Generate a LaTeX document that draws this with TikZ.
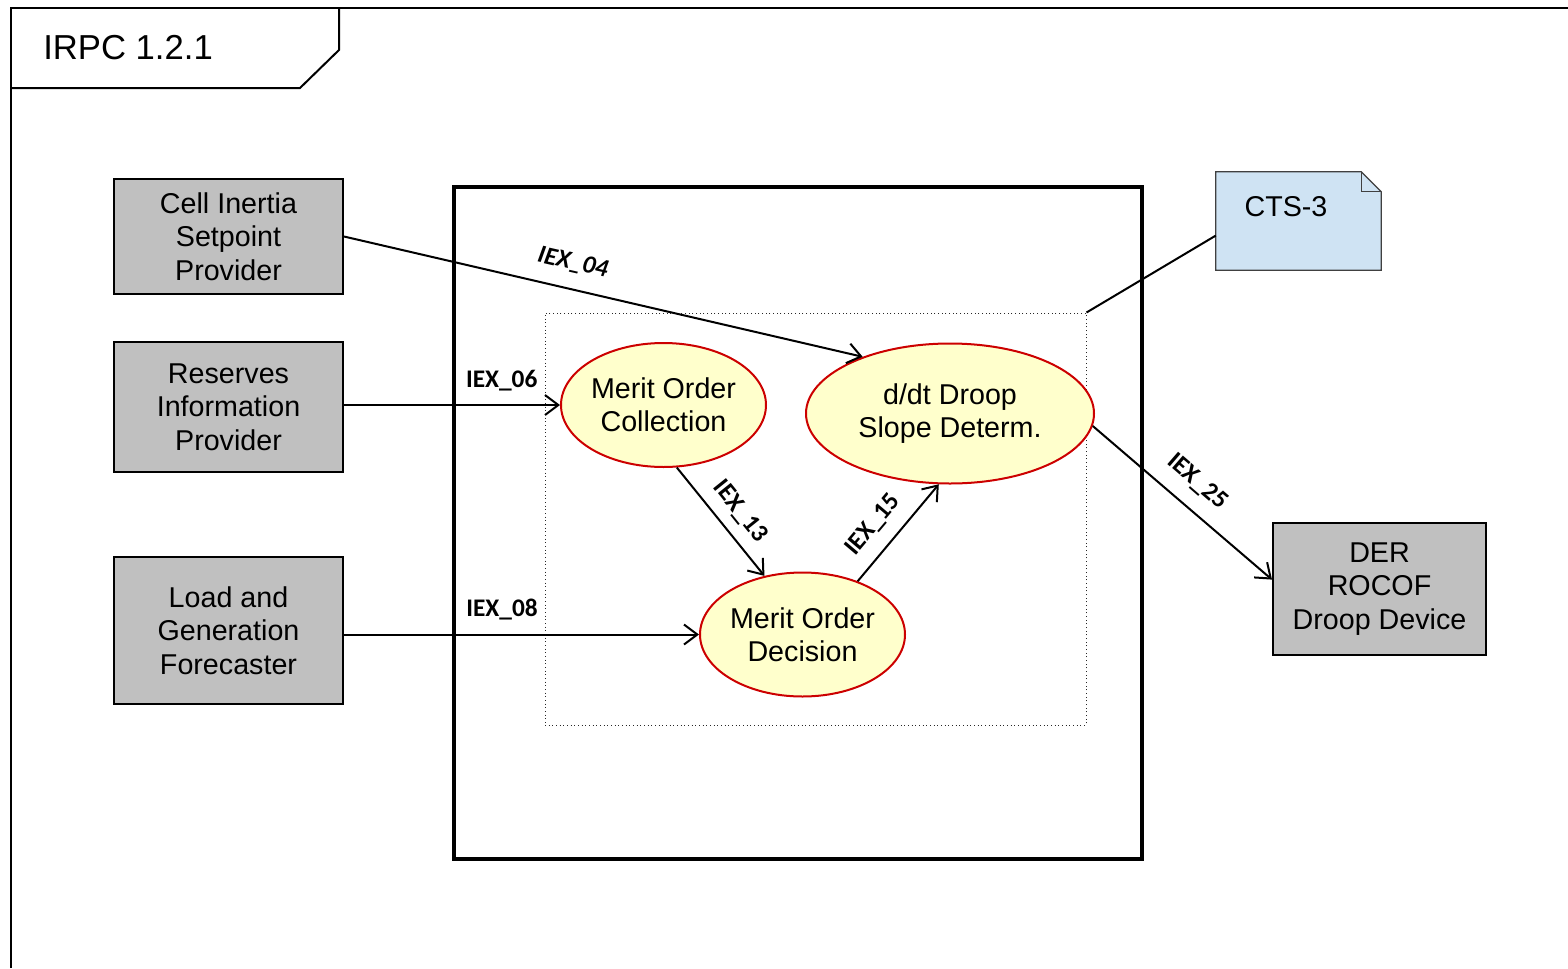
\documentclass[tikz,border=0pt]{standalone}
\usepackage{fontspec}
\setmainfont{Liberation Sans}
\newfontfamily\iexfont{Carlito}
\usetikzlibrary{shapes.geometric,arrows.meta,calc}

\begin{document}
\begin{tikzpicture}[x=0.75pt,y=0.75pt,yscale=-1,xscale=1,
  actor/.style={draw=black,line width=1.5pt,fill={rgb,255:red,192;green,192;blue,192},align=center,inner sep=0pt,font=\fontsize{21.5}{25}\selectfont,minimum width=171.75pt},
  func/.style={ellipse,draw={rgb,255:red,204;green,0;blue,0},line width=1.5pt,fill={rgb,255:red,255;green,255;blue,204},align=center,inner sep=0pt,font=\fontsize{21.5}{25}\selectfont,minimum width=153.75pt,minimum height=93pt},
  flow/.style={line width=1.5pt,-{Straight Barb[length=10pt,width=15pt]}},
  iex/.style={font=\iexfont\bfseries\fontsize{19}{22}\selectfont,inner sep=2pt}
]
\useasboundingbox (0,0) rectangle (1568,968);

\draw [line width=1.5pt] (11,968) -- (11,8) -- (1568,8) ;
\draw [line width=1.5pt] (11,88) -- (300,88) -- (339,50) -- (339,8) ;
\node [anchor=west,inner sep=0pt,font=\fontsize{26}{30}\selectfont] (title) at (43,48) {IRPC 1.2.1};

\draw [line width=3pt] (454,187) rectangle (1142,859) ;
\node [draw={rgb,255:red,40;green,40;blue,40},dotted,line width=0.75pt,minimum width=405.75pt,minimum height=309pt] (fnarea) at (815.5,519) {};

\node [actor,minimum height=86.25pt] (cell) at (228.5,236.5) {Cell Inertia\\Setpoint\\Provider};
\node [actor,minimum height=97.5pt] (res) at (228.5,407) {Reserves\\Information\\Provider};
\node [actor,minimum height=110.25pt] (load) at (228.5,630.5) {Load and\\Generation\\Forecaster};
\node [actor,minimum width=159.75pt,minimum height=99pt] (der) at (1379.5,589) {DER\\ROCOF\\Droop Device};

\node [func] (coll) at (663.5,405) {Merit Order\\Collection};
\node [func,minimum width=216pt,minimum height=105pt] (ddt) at (950,413.5) {d/dt Droop\\Slope Determ.};
\node [func] (dec) at (802.5,634.5) {Merit Order\\Decision};

\node [minimum width=123.75pt,minimum height=73.5pt,inner sep=0pt] (cts) at (1298.5,221) {};
\draw [draw={rgb,255:red,64;green,64;blue,64},line width=1pt,fill={rgb,255:red,207;green,227;blue,243}] (cts.south west) -- (cts.north west) -- ($(cts.north east)+(-20,0)$) -- ($(cts.north east)+(0,20)$) -- (cts.south east) -- cycle ;
\draw [draw={rgb,255:red,64;green,64;blue,64},line width=1pt] ($(cts.north east)+(-20,0)$) -- ($(cts.north east)+(-20,20)$) -- ($(cts.north east)+(0,20)$) ;
\node [inner sep=0pt,font=\fontsize{21.5}{25}\selectfont] (ctstext) at (1286,207) {CTS-3};

\draw [flow] (cell.east) -- (ddt.147) node [iex,pos=0.43,rotate=-12.9,above=9pt] {\itshape IEX\_04};
\draw [flow] (coll.west -| res.east) -- (coll.west) node [iex,pos=0.73,above=8pt] {IEX\_06};
\draw [flow] (dec.west -| load.east) -- (dec.west) node [iex,pos=0.445,above=8pt] {IEX\_08};
\draw [flow] (coll.-78) -- (dec.123) node [iex,pos=0.53,rotate=-51.3,above=6pt] {IEX\_13};
\draw [flow] (dec.44) -- (ddt.-99) node [iex,pos=0.42,rotate=49.8,above=8pt] {IEX\_15};
\draw [flow] (ddt.-5) -- (der.175) node [iex,pos=0.49,rotate=-40.9,above=9pt] {IEX\_25};
\draw [line width=1.5pt] (fnarea.north east) -- (cts.190) ;

\end{tikzpicture}
\end{document}
